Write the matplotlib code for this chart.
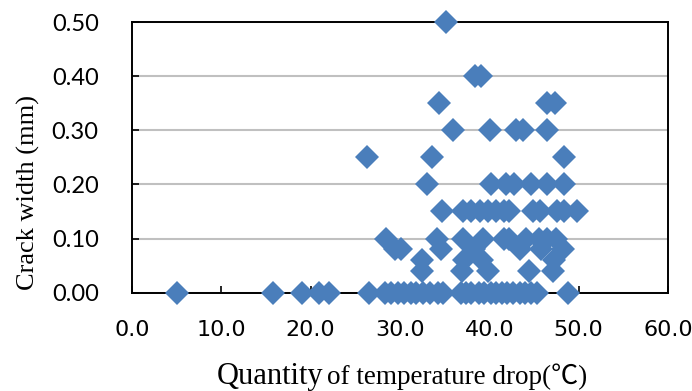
import matplotlib
matplotlib.use("Agg")
import matplotlib.pyplot as plt

# crack width data, grouped by crack width (mm)
x_050 = [35.1]
x_040 = [38.4, 39.1]
x_035 = [34.4, 46.5, 47.4]
x_030 = [35.9, 40.1, 43.0, 43.8, 46.4]
x_025 = [26.3, 33.6, 48.4]
x_020 = [33.0, 40.2, 41.9, 42.8, 44.7, 46.5, 48.4]
x_015 = [34.7, 37.0, 37.9, 38.9, 39.9, 40.8, 41.6, 42.2, 44.9, 45.7, 47.6, 48.4, 49.8]
x_010 = [28.4, 34.1, 37.0, 39.3, 41.6, 42.2, 44.1, 45.6, 46.4, 47.5]
x_008 = [29.4, 30.1, 34.6, 38.3, 43.4, 45.8, 48.2]
x_006 = [32.5, 37.2, 39.2, 47.2]
x_004 = [32.5, 36.9, 39.8, 44.4, 47.1]
x_000 = [5.0, 15.8, 19.0, 20.9, 22.0, 26.5, 28.3, 29.0, 29.8, 30.5, 31.2, 31.8,
         32.6, 33.4, 34.2, 34.8, 36.8, 37.4, 38.0, 38.8, 39.4, 40.2, 40.8, 41.4,
         42.0, 42.7, 43.4, 44.0, 44.7, 45.3, 48.8]

groups = {0.50: x_050, 0.40: x_040, 0.35: x_035, 0.30: x_030, 0.25: x_025,
          0.20: x_020, 0.15: x_015, 0.10: x_010, 0.08: x_008, 0.06: x_006,
          0.04: x_004, 0.00: x_000}

xticks = [0, 10, 20, 30, 40, 50, 60]
yticks = [0.0, 0.1, 0.2, 0.3, 0.4, 0.5]

#flatten into x / y lists
temp_drop = []
crack = []
for w, xs in groups.items():
    temp_drop += xs
    crack += [w] * len(xs)

fig = plt.figure(figsize=(6.92, 3.91), dpi=100)
ax = fig.add_axes([0.1908, 0.2514, 0.7745, 0.6923])

ax.plot(temp_drop, crack, linestyle='none', marker='D', markersize=12,
        color='#4a7ebb', markeredgewidth=0, clip_on=False, zorder=4)

ax.set_xlim(0, 60)
ax.set_ylim(0, 0.5)
ax.set_xticks(xticks)
ax.set_yticks(yticks)
ax.set_xticklabels(['%.1f' % v for v in xticks],
                   family=['Liberation Sans Narrow', 'DejaVu Sans'], fontsize=16)
ax.set_yticklabels(['%.2f' % v for v in yticks], family=['Lato', 'DejaVu Sans'],
                   fontsize=17)
ax.tick_params(axis='both', direction='in', length=5, width=1.2, color='black')
ax.tick_params(axis='x', pad=20)
ax.tick_params(axis='y', pad=24)

ax.yaxis.grid(True, color='#c0c0c0', linewidth=1.5)
ax.set_axisbelow(True)
for s in ax.spines.values():
    s.set_linewidth(1.4)
    s.set_color('black')
    s.set_zorder(3)

ax.set_ylabel('Crack width (mm)', family=['Liberation Serif', 'DejaVu Serif'],
              fontsize=19)
ax.yaxis.set_label_coords(-0.172, 0.37)

# x label in two sizes
fig.text(323 / 692, 7 / 391, 'Quantity', ha='right', va='baseline',
         family=['Liberation Serif', 'DejaVu Serif'], fontsize=22)
fig.text(327 / 692, 7 / 391, 'of temperature drop(\u2103)', ha='left', va='baseline',
         family=['Liberation Serif', 'Noto Sans CJK JP'], fontsize=19.5)

fig.savefig('out.png', dpi=100)
